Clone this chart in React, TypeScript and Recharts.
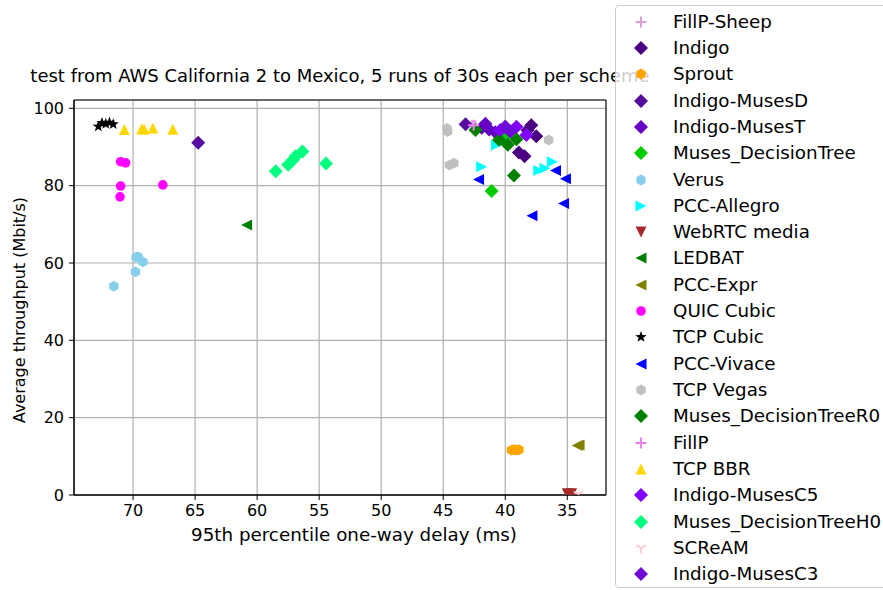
import React from "react";
import { ScatterChart, Scatter, XAxis, YAxis, CartesianGrid, ReferenceArea } from "recharts";

type Pt = [number, number]; // [95th pct delay (ms), throughput (Mbit/s)]

const fillpSheep: Pt[] = [[42.7, 95.5], [42.4, 95.4]];
const indigo: Pt[] = [[38.9, 88.6], [38.45, 87.6], [37.9, 95.6], [37.5, 92.8], [38.2, 94.3]];
const sprout: Pt[] = [[39.5, 11.6], [39.3, 11.7], [39.1, 11.6], [38.9, 11.7]];
const indigoMusesD: Pt[] = [[64.75, 91.1], [43.2, 95.9], [41.9, 95.0]];
const indigoMusesT: Pt[] = [[41.6, 96.0], [41.3, 94.5], [40.8, 93.8]];
const musesTree: Pt[] = [[41.1, 78.6], [40.0, 92.8]];
const verus: Pt[] = [[69.75, 61.5], [69.6, 61.6], [69.2, 60.3], [69.8, 57.7], [71.55, 54.0]];
const pccAllegro: Pt[] = [[41.9, 84.9], [40.7, 90.5], [37.3, 83.9], [36.8, 84.5], [36.2, 86.2]];
const webrtc: Pt[] = [[35.0, 0.3], [34.65, 0.3]];
const ledbat: Pt[] = [[60.85, 69.8]];
const pccExpr: Pt[] = [[34.2, 12.8], [34.05, 12.9]];
const quicCubic: Pt[] = [[71.0, 86.2], [70.6, 85.9], [71.0, 79.9], [71.05, 77.1], [67.6, 80.2]];
const tcpCubic: Pt[] = [[72.8, 95.3], [72.5, 96.2], [72.2, 96.0], [71.9, 96.3], [71.6, 95.9]];
const pccVivace: Pt[] = [[42.15, 81.6], [35.95, 83.9], [35.15, 81.8], [35.3, 75.4], [37.85, 72.2]];
const tcpVegas: Pt[] = [[44.7, 94.8], [44.65, 94.0], [44.5, 85.3], [44.15, 85.8], [36.5, 91.8]];
const musesTreeR0: Pt[] = [[42.4, 94.4], [40.5, 91.9], [39.8, 90.6], [39.1, 92.0], [39.3, 82.6]];
const fillp: Pt[] = [[42.55, 95.6]];
const tcpBbr: Pt[] = [[70.7, 94.5], [69.3, 94.7], [69.1, 94.6], [68.4, 94.9], [66.8, 94.6]];
const indigoMusesC5: Pt[] = [[39.1, 95.2], [38.3, 93.1], [40.4, 94.4]];
const musesTreeH0: Pt[] = [[58.5, 83.7], [57.5, 85.4], [57.1, 86.7], [56.9, 87.6], [56.35, 88.8], [54.45, 85.7]];
const scream: Pt[] = [[34.1, 0.2]];
const indigoMusesC3: Pt[] = [[40.0, 95.3], [39.6, 94.0]];

const schemeNames = [
  "FillP-Sheep", "Indigo", "Sprout", "Indigo-MusesD", "Indigo-MusesT", "Muses_DecisionTree",
  "Verus", "PCC-Allegro", "WebRTC media", "LEDBAT", "PCC-Expr", "QUIC Cubic", "TCP Cubic",
  "PCC-Vivace", "TCP Vegas", "Muses_DecisionTreeR0", "FillP", "TCP BBR", "Indigo-MusesC5",
  "Muses_DecisionTreeH0", "SCReAM", "Indigo-MusesC3",
];
const schemeRuns: Pt[][] = [
  fillpSheep, indigo, sprout, indigoMusesD, indigoMusesT, musesTree, verus, pccAllegro, webrtc,
  ledbat, pccExpr, quicCubic, tcpCubic, pccVivace, tcpVegas, musesTreeR0, fillp, tcpBbr,
  indigoMusesC5, musesTreeH0, scream, indigoMusesC3,
];

const look: Record<string, { color: string; mark: string }> = {
  "FillP-Sheep": { color: "#dda0dd", mark: "plus" },
  "Indigo": { color: "#4b0082", mark: "diamond" },
  "Sprout": { color: "#ffa500", mark: "hex" },
  "Indigo-MusesD": { color: "#560ca0", mark: "diamond" },
  "Indigo-MusesT": { color: "#6500c4", mark: "diamond" },
  "Muses_DecisionTree": { color: "#00cc00", mark: "diamond" },
  "Verus": { color: "#87ceeb", mark: "hex" },
  "PCC-Allegro": { color: "#00ffff", mark: "right" },
  "WebRTC media": { color: "#a52a2a", mark: "down" },
  "LEDBAT": { color: "#008000", mark: "left" },
  "PCC-Expr": { color: "#808000", mark: "left" },
  "QUIC Cubic": { color: "#ff00ff", mark: "circle" },
  "TCP Cubic": { color: "#000000", mark: "star" },
  "PCC-Vivace": { color: "#0000ff", mark: "left" },
  "TCP Vegas": { color: "#c0c0c0", mark: "hex" },
  "Muses_DecisionTreeR0": { color: "#008000", mark: "diamond" },
  "FillP": { color: "#ee82ee", mark: "plus" },
  "TCP BBR": { color: "#ffd700", mark: "up" },
  "Indigo-MusesC5": { color: "#8000ff", mark: "diamond" },
  "Muses_DecisionTreeH0": { color: "#00ff7f", mark: "diamond" },
  "SCReAM": { color: "#ffc0cb", mark: "tri" },
  "Indigo-MusesC3": { color: "#6e0ad6", mark: "diamond" },
};

const xTicks = [70, 65, 60, 55, 50, 45, 40, 35];
const yTicks = [0, 20, 40, 60, 80, 100];
const X_DOMAIN: [number, number] = [31.88, 74.76];
const Y_DOMAIN: [number, number] = [0, 102.15];

const FONT = "'DejaVu Sans', sans-serif";

const Mark = ({ kind, color, cx, cy }: any) => {
  if (cx == null || cy == null) return null;
  const r = 5.5;
  const poly = (pts: number[][]) => pts.map((p) => `${p[0]},${p[1]}`).join(" ");
  switch (kind) {
    case "diamond": {
      const d = 7;
      return <polygon points={poly([[cx, cy - d], [cx + d, cy], [cx, cy + d], [cx - d, cy]])} fill={color} />;
    }
    case "circle":
      return <circle cx={cx} cy={cy} r={4.8} fill={color} />;
    case "hex": {
      const pts = [];
      for (let i = 0; i < 6; i++) {
        const a = (-90 + 60 * i) * Math.PI / 180;
        pts.push([cx + 5.4 * Math.cos(a), cy + 5.4 * Math.sin(a)]);
      }
      return <polygon points={poly(pts)} fill={color} />;
    }
    case "up":
      return <polygon points={poly([[cx, cy - r], [cx - r, cy + r], [cx + r, cy + r]])} fill={color} />;
    case "down":
      return <polygon points={poly([[cx, cy + r], [cx - r, cy - r], [cx + r, cy - r]])} fill={color} />;
    case "left":
      return <polygon points={poly([[cx - r, cy], [cx + r, cy - r], [cx + r, cy + r]])} fill={color} />;
    case "right":
      return <polygon points={poly([[cx + r, cy], [cx - r, cy - r], [cx - r, cy + r]])} fill={color} />;
    case "star": {
      const pts = [];
      for (let i = 0; i < 10; i++) {
        const a = (-90 + 36 * i) * Math.PI / 180;
        const rr = i % 2 === 0 ? 6 : 2.4;
        pts.push([cx + rr * Math.cos(a), cy + rr * Math.sin(a)]);
      }
      return <polygon points={poly(pts)} fill={color} />;
    }
    case "plus":
      return <path d={`M${cx - r},${cy}H${cx + r}M${cx},${cy - r}V${cy + r}`} stroke={color} strokeWidth={2} />;
    case "tri":
      return (
        <path
          d={`M${cx},${cy}V${cy + r}M${cx},${cy}L${cx - r * 0.87},${cy - r * 0.5}M${cx},${cy}L${cx + r * 0.87},${cy - r * 0.5}`}
          stroke={color}
          strokeWidth={1.6}
          fill="none"
        />
      );
    default:
      return null;
  }
};

export default function App() {
  return (
    <div style={{ position: "absolute", left: 0, top: 0, width: 883, height: 590, overflow: "hidden", background: "#fff", fontFamily: FONT }}>
      <ScatterChart width={883} height={590} margin={{ top: 100, right: 277, bottom: 65, left: 14 }}>
        <CartesianGrid stroke="#b0b0b0" strokeWidth={1.2} />
        <XAxis
          type="number"
          dataKey="x"
          domain={X_DOMAIN}
          reversed
          allowDataOverflow
          ticks={xTicks}
          height={30}
          tickSize={5}
          tickMargin={5}
          axisLine={{ stroke: "#000" }}
          tickLine={{ stroke: "#000" }}
          tick={{ fill: "#000", fontSize: 16, fontFamily: FONT }}
        />
        <YAxis
          type="number"
          dataKey="y"
          domain={Y_DOMAIN}
          allowDataOverflow
          ticks={yTicks}
          width={60}
          tickSize={5}
          tickMargin={5}
          axisLine={{ stroke: "#000" }}
          tickLine={{ stroke: "#000" }}
          tick={{ fill: "#000", fontSize: 16, fontFamily: FONT }}
        />
        {schemeNames.map((name, i) => (
          <Scatter
            key={name}
            name={name}
            data={schemeRuns[i].map(([x, y]) => ({ x, y }))}
            isAnimationActive={false}
            shape={(p: any) => <Mark kind={look[name].mark} color={look[name].color} cx={p.cx} cy={p.cy} />}
          />
        ))}
        <ReferenceArea x1={X_DOMAIN[0]} x2={X_DOMAIN[1]} y1={Y_DOMAIN[0]} y2={Y_DOMAIN[1]} fill="none" stroke="#000" strokeWidth={1} />
      </ScatterChart>

      <div style={{ position: "absolute", left: 0, width: 680, top: 65, lineHeight: "22px", textAlign: "center", fontSize: 18, color: "#000", whiteSpace: "nowrap" }}>
        test from AWS California 2 to Mexico, 5 runs of 30s each per scheme
      </div>
      <div style={{ position: "absolute", left: 154, width: 400, top: 523, lineHeight: "24px", textAlign: "center", fontSize: 18.3, color: "#000", whiteSpace: "nowrap" }}>
        95th percentile one-way delay (ms)
      </div>
      <div style={{ position: "absolute", left: 20, top: 310, width: 0, height: 0 }}>
        <div style={{ position: "absolute", left: -200, top: -11, width: 400, lineHeight: "22px", textAlign: "center", fontSize: 16, color: "#000", transform: "rotate(-90deg)" }}>
          Average throughput (Mbit/s)
        </div>
      </div>

      <div
        style={{
          position: "absolute", left: 615, top: 5, width: 300, height: 583,
          border: "1px solid #cccccc", borderRadius: 4, background: "rgba(255,255,255,0.8)", boxSizing: "border-box",
        }}
      >
        {schemeNames.map((name, i) => (
          <div key={name} style={{ position: "absolute", left: 0, top: 15.7 + i * 26.31 - 13, height: 26, width: 300 }}>
            <svg width={24} height={26} style={{ position: "absolute", left: 13, top: 0 }}>
              <Mark kind={look[name].mark} color={look[name].color} cx={12} cy={13} />
            </svg>
            <span style={{ position: "absolute", left: 57, top: 0, lineHeight: "26px", fontSize: 18.3, color: "#000", whiteSpace: "nowrap" }}>
              {name}
            </span>
          </div>
        ))}
      </div>
    </div>
  );
}
